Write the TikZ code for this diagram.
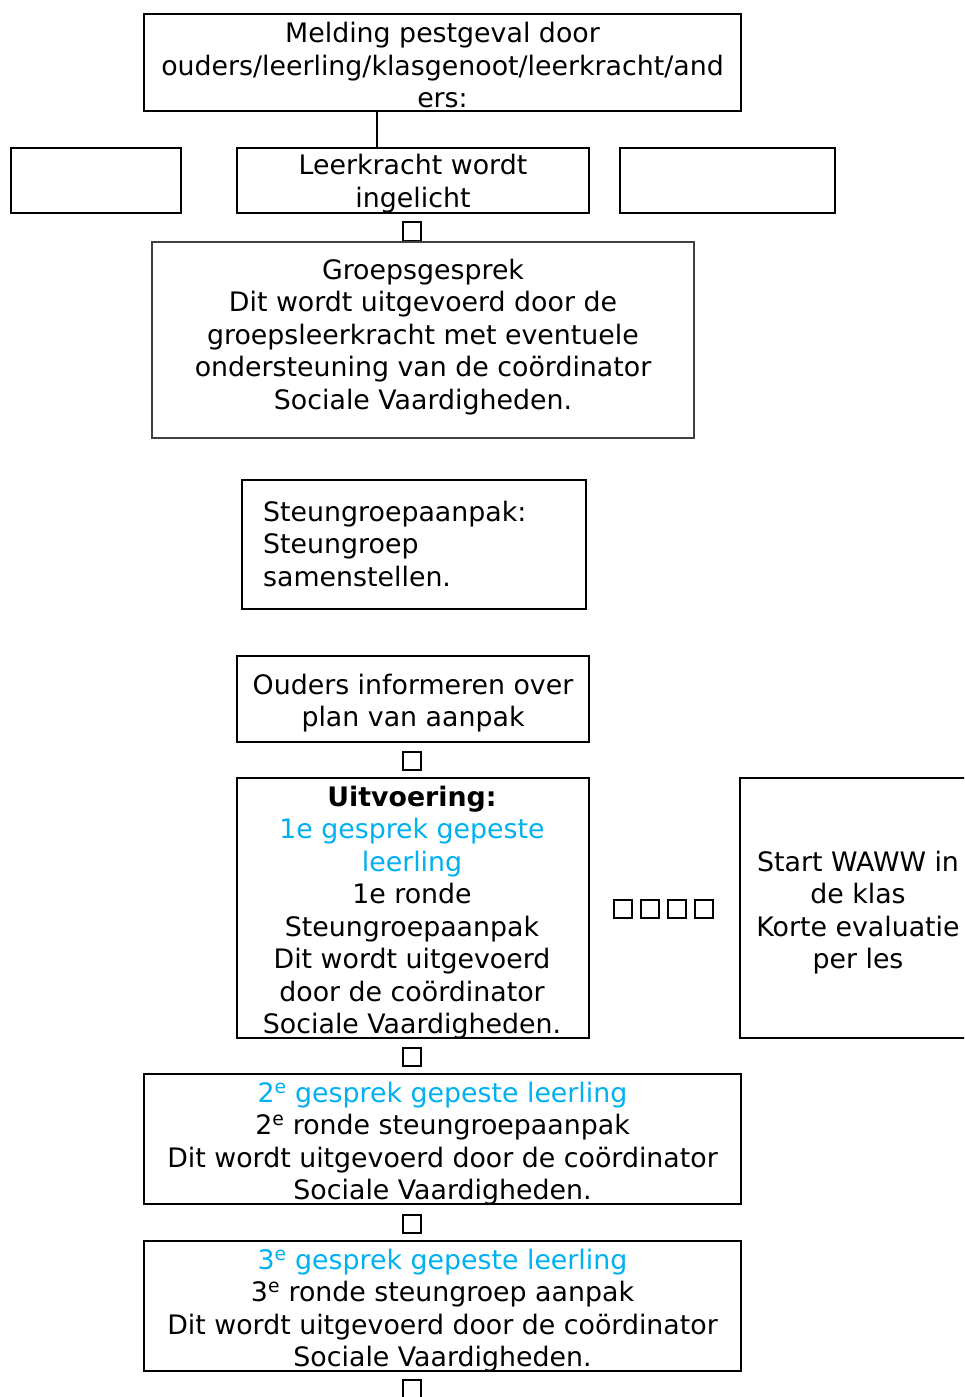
\documentclass[tikz,border=0pt]{standalone}
\usepackage{fontspec}
\setmainfont{DejaVu Sans}
\definecolor{lblue}{RGB}{0,176,240}
\begin{document}
\begin{tikzpicture}[x=1pt,y=-1pt,
  box/.style={draw,line width=2pt,inner sep=0pt},
  tx/.style={inner sep=0pt,align=center,yshift=-3pt,font=\fontsize{26.8}{32.5}\selectfont},
  sq/.style={draw,line width=1.6pt,minimum size=18.5pt,inner sep=0pt}]
\useasboundingbox (0,0) rectangle (964,1397);
\clip (0,0) rectangle (964,1397);
% top
\node[box,minimum width=597pt,minimum height=97pt] (top) at (442.5,62.5) {};
\node[tx] (topt) at (top.center) {Melding pestgeval door\\ouders/leerling/klasgenoot/leerkracht/and\\ers:};
\node[box,minimum width=170pt,minimum height=65pt] (left) at (96,180.5) {};
\node[box,minimum width=352pt,minimum height=65pt] (lk) at (413,180.5) {};
\node[tx] (lkt) at (lk.center) {Leerkracht wordt\\ingelicht};
\node[box,minimum width=215pt,minimum height=65pt] (right) at (727.5,180.5) {};
\coordinate (c1) at (377,148);
\draw[line width=2pt] (c1 |- top.south) -- (c1 |- lk.north);
\node[sq] (s1) at (412,231.5) {};
\node[box,draw=black!75,line width=1.5pt,minimum width=542pt,minimum height=196pt] (gg) at (423,340) {};
\node[tx] (ggt) at (423,334)
  {Groepsgesprek\\Dit wordt uitgevoerd door de\\groepsleerkracht met eventuele\\ondersteuning van de coördinator\\Sociale Vaardigheden.};
\node[box,minimum width=344pt,minimum height=129pt] (sg) at (414,544.5) {};
\node[tx,align=left,anchor=west] (sgt) at (263,541)
  {Steungroepaanpak:\\Steungroep\\samenstellen.};
\node[box,minimum width=352pt,minimum height=86pt] (ou) at (413,699) {};
\node[tx] (out) at (413,700) {Ouders informeren over\\plan van aanpak};
\node[sq] (s2) at (412,761) {};
\node[box,minimum width=352pt,minimum height=260pt] (uv) at (413,908) {};
\node[tx] (uvt) at (412,909.5)
  {\textbf{Uitvoering:}\\\textcolor{lblue}{1e gesprek gepeste}\\\textcolor{lblue}{leerling}\\1e ronde\\Steungroepaanpak\\Dit wordt uitgevoerd\\door de coördinator\\Sociale Vaardigheden.};
\node[sq] (q1) at (623,909) {};
\node[sq] (q2) at (650,909) {};
\node[sq] (q3) at (677,909) {};
\node[sq] (q4) at (704,909) {};
\node[box,minimum width=240pt,minimum height=260pt] (ww) at (860,908) {};
\node[tx] (wwt) at (858,909.5)
  {Start WAWW in\\de klas\\Korte evaluatie\\per les};
\node[sq] (s3) at (412,1057) {};
\node[box,minimum width=597pt,minimum height=130pt] (r2) at (442.5,1139) {};
\node[tx] (r2t) at (442.5,1140.5)
  {\textcolor{lblue}{2\textsuperscript{e} gesprek gepeste leerling}\\2\textsuperscript{e} ronde steungroepaanpak\\Dit wordt uitgevoerd door de coördinator\\Sociale Vaardigheden.};
\node[sq] (s4) at (412,1224) {};
\node[box,minimum width=597pt,minimum height=130pt] (r3) at (442.5,1306) {};
\node[tx] (r3t) at (442.5,1307.5)
  {\textcolor{lblue}{3\textsuperscript{e} gesprek gepeste leerling}\\3\textsuperscript{e} ronde steungroep aanpak\\Dit wordt uitgevoerd door de coördinator\\Sociale Vaardigheden.};
\node[sq] (s5) at (412,1389) {};
\end{tikzpicture}
\end{document}
